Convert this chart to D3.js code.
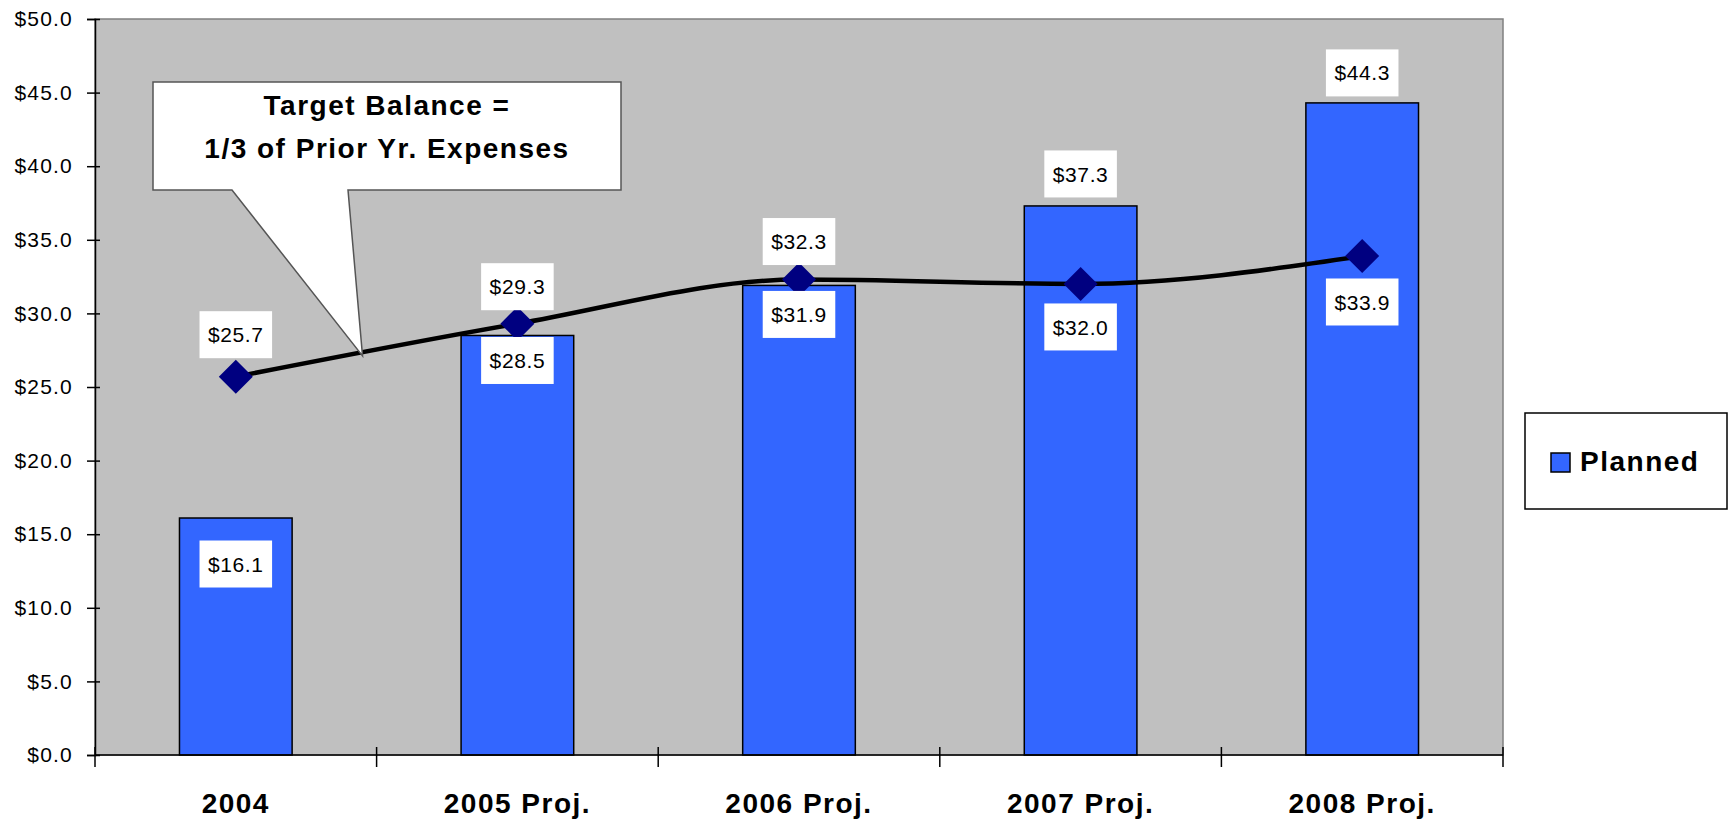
<!DOCTYPE html>
<html>
<head>
<meta charset="utf-8">
<script src="https://cdn.jsdelivr.net/npm/d3@7"></script>
<style>
  body { margin: 0; background: #fff; }
  svg { display: block; }
</style>
</head>
<body>
<svg id="chart" width="1731" height="821"></svg>
<script>
// --- data ---
const categories = ['2004', '2005 Proj.', '2006 Proj.', '2007 Proj.', '2008 Proj.'];
const planned = [16.1, 28.5, 31.9, 37.3, 44.3];
const targetBalance = [25.7, 29.3, 32.3, 32.0, 33.9];
const yTickValues = [0, 5, 10, 15, 20, 25, 30, 35, 40, 45, 50];
const legendLabels = ['Planned'];
const calloutLines = ['Target Balance =', '1/3 of Prior Yr. Expenses'];

// label offsets (px from the mark) as placed in the original
const barLabelDy = [46, 25, 29, -32, -30];
const lineLabelDy = [-42, -37, -38, 43, 46];

const svg = d3.select('#chart');
const plot = { left: 95, right: 1503, top: 19, bottom: 755 };
const FONT = 'Liberation Sans, Arial, sans-serif';

const x = d3.scaleBand()
  .domain(categories)
  .range([plot.left, plot.right])
  .paddingInner(0.6)
  .paddingOuter(0.3);

const y = d3.scaleLinear()
  .domain([0, 50])
  .range([plot.bottom, plot.top]);

const cx = c => x(c) + x.bandwidth() / 2;

// plot background
svg.append('rect')
  .attr('x', plot.left).attr('y', plot.top)
  .attr('width', plot.right - plot.left)
  .attr('height', plot.bottom - plot.top)
  .attr('fill', '#c0c0c0')
  .attr('stroke', '#808080')
  .attr('stroke-width', 1.5);

// bars
svg.append('g').selectAll('rect')
  .data(planned)
  .enter()
  .append('rect')
  .attr('x', (d, i) => x(categories[i]))
  .attr('y', d => y(d))
  .attr('width', x.bandwidth())
  .attr('height', d => y(0) - y(d))
  .attr('fill', '#3366ff')
  .attr('stroke', '#000')
  .attr('stroke-width', 1.5);

// y axis
const yAxis = svg.append('g')
  .attr('transform', `translate(${plot.left},0)`)
  .call(d3.axisLeft(y)
    .tickValues(yTickValues)
    .tickSize(8)
    .tickPadding(14)
    .tickFormat(d => '$' + d.toFixed(1)));
yAxis.select('.domain').attr('stroke', '#000').attr('stroke-width', 1.5);
yAxis.selectAll('.tick line').attr('x1', 5).attr('stroke-width', 1.5);
yAxis.selectAll('.tick text')
  .attr('font-family', FONT)
  .attr('font-size', 21)
  .attr('letter-spacing', 1.2)
  .attr('fill', '#000');

// x axis (ticks between categories, crossing the axis)
svg.append('line')
  .attr('x1', plot.left).attr('x2', plot.right)
  .attr('y1', y(0)).attr('y2', y(0))
  .attr('stroke', '#000').attr('stroke-width', 1.5);

const boundaries = d3.range(categories.length + 1)
  .map(i => plot.left + i * x.step());
svg.append('g').selectAll('line')
  .data(boundaries)
  .enter()
  .append('line')
  .attr('x1', d => d).attr('x2', d => d)
  .attr('y1', y(0) - 8).attr('y2', y(0) + 12)
  .attr('stroke', '#000').attr('stroke-width', 1.5);

svg.append('g').selectAll('text')
  .data(categories)
  .enter()
  .append('text')
  .attr('x', d => cx(d))
  .attr('y', 813)
  .attr('text-anchor', 'middle')
  .attr('font-family', FONT)
  .attr('font-weight', 'bold')
  .attr('font-size', 28)
  .attr('letter-spacing', 1.5)
  .text(d => d);

// target balance line (smoothed)
const line = d3.line()
  .x((d, i) => cx(categories[i]))
  .y(d => y(d))
  .curve(d3.curveMonotoneX);

svg.append('path')
  .datum(targetBalance)
  .attr('d', line)
  .attr('fill', 'none')
  .attr('stroke', '#000')
  .attr('stroke-width', 4.5);

svg.append('g').selectAll('path')
  .data(targetBalance)
  .enter()
  .append('path')
  .attr('transform', (d, i) => `translate(${cx(categories[i])},${y(d)})`)
  .attr('d', 'M0,-17L17,0L0,17L-17,0Z')
  .attr('fill', '#000080');

// data labels with white boxes
function addLabel(g, px, py, txt) {
  const grp = g.append('g');
  const rect = grp.append('rect').attr('fill', '#fff');
  const t = grp.append('text')
    .attr('x', px)
    .attr('y', py)
    .attr('dy', '0.36em')
    .attr('text-anchor', 'middle')
    .attr('font-family', FONT)
    .attr('font-size', 21)
    .attr('letter-spacing', 0.6)
    .text(txt);
  const bb = t.node().getBBox();
  const w = bb.width + 17;
  const h = 47;
  rect.attr('x', px - w / 2).attr('y', py - h / 2)
    .attr('width', w).attr('height', h);
}

const labels = svg.append('g');
planned.forEach((d, i) => {
  addLabel(labels, cx(categories[i]), y(d) + barLabelDy[i], '$' + d.toFixed(1));
});
targetBalance.forEach((d, i) => {
  addLabel(labels, cx(categories[i]), y(d) + lineLabelDy[i], '$' + d.toFixed(1));
});

// callout pointing at the target line between 2004 and 2005
const t = 0.45;
const tipX = cx(categories[0]) + t * x.step();
const tipY = y(targetBalance[0] + t * (targetBalance[1] - targetBalance[0])) + 3;
const box = { x0: 153, x1: 621, y0: 82, y1: 190, a: 232, b: 348 };

svg.append('path')
  .attr('d', `M${box.x0},${box.y0}H${box.x1}V${box.y1}H${box.b}L${tipX},${tipY}L${box.a},${box.y1}H${box.x0}Z`)
  .attr('fill', '#fff')
  .attr('stroke', '#555')
  .attr('stroke-width', 1.5)
  .attr('stroke-linejoin', 'miter');

svg.append('g').selectAll('text')
  .data(calloutLines)
  .enter()
  .append('text')
  .attr('x', (box.x0 + box.x1) / 2)
  .attr('y', (d, i) => 115 + i * 43)
  .attr('text-anchor', 'middle')
  .attr('font-family', FONT)
  .attr('font-weight', 'bold')
  .attr('font-size', 28)
  .attr('letter-spacing', 1.5)
  .text(d => d);

// legend
const legend = svg.append('g');
legend.append('rect')
  .attr('x', 1525).attr('y', 413)
  .attr('width', 202).attr('height', 96)
  .attr('fill', '#fff')
  .attr('stroke', '#000')
  .attr('stroke-width', 1.5);
legendLabels.forEach((lab, i) => {
  legend.append('rect')
    .attr('x', 1551).attr('y', 453 + i * 30)
    .attr('width', 19).attr('height', 19)
    .attr('fill', '#3366ff')
    .attr('stroke', '#000')
    .attr('stroke-width', 1.5);
  legend.append('text')
    .attr('x', 1580).attr('y', 471 + i * 30)
    .attr('font-family', FONT)
    .attr('font-weight', 'bold')
    .attr('font-size', 28)
    .attr('letter-spacing', 1.5)
    .text(lab);
});
</script>
</body>
</html>
